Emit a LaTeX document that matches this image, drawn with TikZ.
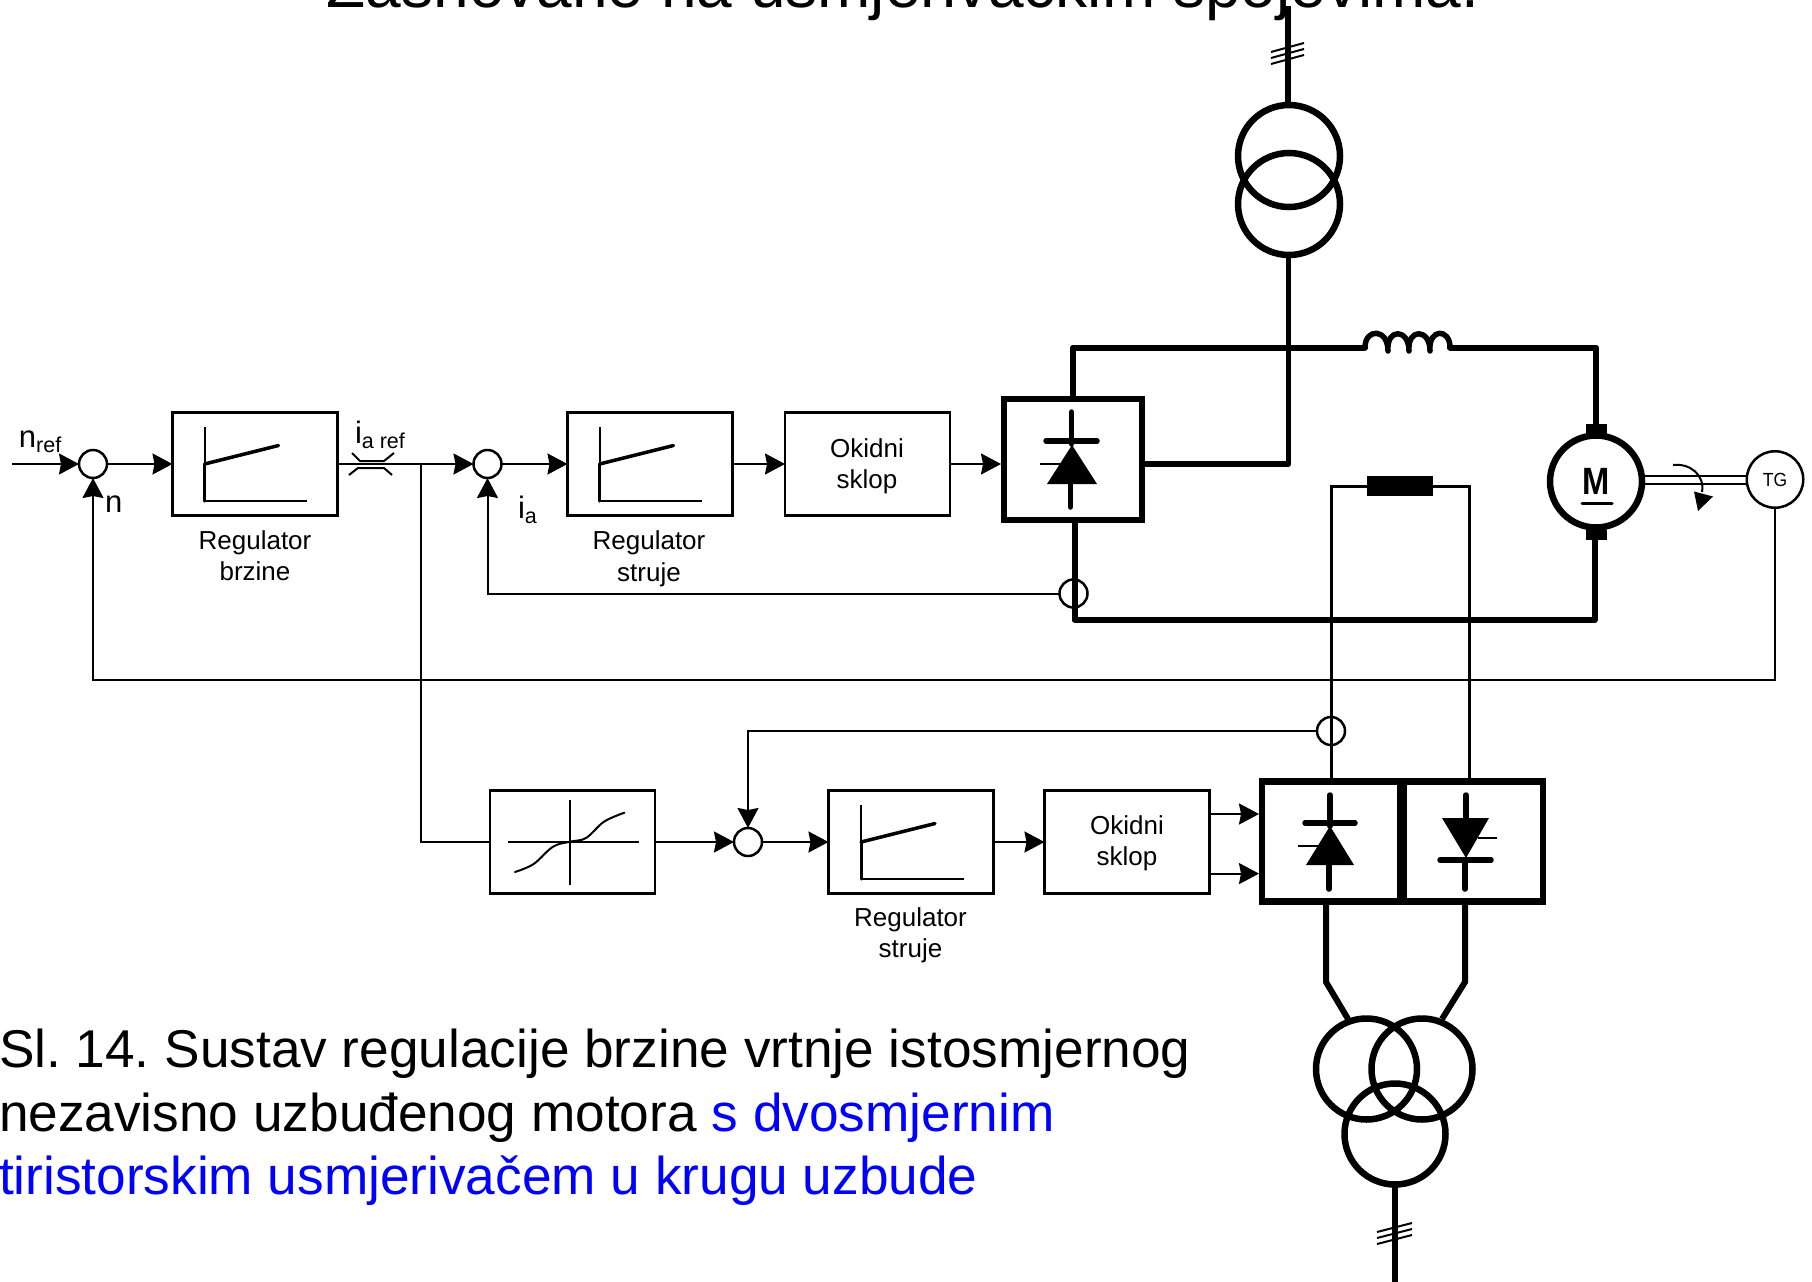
\documentclass[tikz,border=0pt]{standalone}
\usepackage{fontspec}
\usepackage{graphicx}
\setmainfont{Liberation Sans}
\usetikzlibrary{arrows.meta,calc}
\frenchspacing
\newcommand{\lbl}{\fontsize{26}{31}\selectfont}
\newcommand{\lblbig}{\fontsize{31}{31}\selectfont}
\newcommand{\sbs}[1]{\raisebox{-5pt}{\fontsize{21.5}{21.5}\selectfont #1}}
\newcommand{\cpt}{\fontsize{53.2}{63}\selectfont}
\tikzset{
  wire/.style={line width=2pt},
  arr/.style={line width=2pt,-{Stealth[length=20pt,width=21pt,inset=2pt]}},
  pwire/.style={line width=6pt,line cap=round,line join=round},
  fwire/.style={line width=3pt},
  sumn/.style={circle,draw,line width=2.5pt,minimum size=28pt,inner sep=0pt,outer sep=0pt},
  blockbox/.style={rectangle,draw,line width=2.2pt,minimum width=165pt,minimum height=103pt,inner sep=0pt,outer sep=0pt,align=center},
  convbox/.style={rectangle,draw,line width=6.5pt,inner sep=0pt,outer sep=0pt},
  trafo/.style={circle,draw,line width=6.5pt,minimum size=102pt,inner sep=0pt,outer sep=0pt},
  txt/.style={anchor=base,inner sep=0pt,outer sep=0pt,font=\lbl},
  capt/.style={anchor=base west,inner sep=0pt,outer sep=0pt,font=\cpt},
  hash/.style={line width=2pt},
  axthin/.style={line width=2pt},
  axthick/.style={line width=3.5pt,line cap=round},
  thy/.style={line width=5.5pt,line cap=round},
}
\begin{document}
\begin{tikzpicture}[x=1pt,y=-1pt]
\useasboundingbox (0,0) rectangle (1812,1282);
% title, cut by the page edge as in the reference
\node[capt,anchor=base,font=\fontsize{64}{64}\selectfont] (title) at (903,7) {Zasnovane na usmjerivačkim spojevima.};
% caption
\node[capt] (c1) at (-1,1067) {Sl. 14. Sustav regulacije brzine vrtnje istosmjernog};
\node[capt] (c2) at (-1,1131) {nezavisno uzbuđenog motora \textcolor{blue}{s dvosmjernim}};
\node[capt] (c3) at (-1,1194) {\textcolor{blue}{tiristorskim usmjerivačem u krugu uzbude}};
% upper row
\coordinate (inp) at (12,464);
\node[sumn] (sum1) at (93,464) {};
\node[blockbox] (reg1) at (255,464) {};
\node[sumn] (sum2) at (487.5,464) {};
\node[blockbox] (reg2) at (650,464) {};
\node[blockbox] (ok1) at (867.5,464) {};
\node[convbox,minimum width=138pt,minimum height=121pt] (thy1) at (1073,459.5) {};
\coordinate (ok1in) at (thy1.west |- reg1.center);
\draw[arr] (inp) -- (sum1.west);
\draw[arr] (sum1.east) -- (reg1.west);
\draw[arr] (reg1.east) -- (sum2.west);
\draw[arr] (sum2.east) -- (reg2.west);
\draw[arr] (reg2.east) -- (ok1.west);
\draw[arr] (ok1.east) -- ($(ok1in)+(-3,0)$);
% texts upper
\node[txt,font=\lblbig,anchor=base west] (lnref) at (19,447) {n\sbs{ref}};
\node[txt,font=\lblbig,anchor=base west] (ln) at (105,512) {n};
\node[txt,font=\lblbig,anchor=base west] (liaref) at (355,443) {i\sbs{a ref}};
\node[txt,font=\lblbig,anchor=base west] (lia) at (518,518) {i\sbs{a}};
\node[txt] (r1a) at (255,549) {Regulator};
\node[txt] (r1b) at (255,580) {brzine};
\node[txt] (r2a) at (649,549) {Regulator};
\node[txt] (r2b) at (649,581) {struje};
\node[txt] (o1a) at (867,457) {Okidni};
\node[txt] (o1b) at (867,488) {sklop};
% characteristic graphs
\foreach \dx/\dy in {0/0,395/0,656.5/378}{
  \begin{scope}[shift={(\dx,\dy)}]
    \draw[axthin] (204.6,427) -- (204.6,465);
    \draw[axthick,line width=3pt] (204.6,464) -- (204.6,501);
    \draw[axthin,line width=2.5pt] (204.6,501) -- (307,501);
    \draw[axthick] (204.6,464) -- (278.5,445.5);
  \end{scope}
}
% decoupling symbol
\draw[wire] (352,453) -- (360,461) -- (384,461) -- (394,453);
\draw[wire] (349,475) -- (358,468) -- (384,468) -- (392,475);
% lower row
\coordinate (jn) at (421,464);
\node[blockbox] (nl) at (572.5,842) {};
\node[sumn] (sum3) at (748,842) {};
\node[blockbox] (reg3) at (911,842) {};
\node[blockbox] (ok2) at (1127,842) {};
\draw[wire] (jn) |- (nl.west);
\draw[arr] (nl.east) -- (sum3.west);
\draw[arr] (sum3.east) -- (reg3.west);
\draw[arr] (reg3.east) -- (ok2.west);
\draw[axthin] (508,842) -- (639,842);
\draw[axthin] (570,800) -- (570,885);
\draw[line width=2pt,line cap=round] plot[smooth,tension=.6] coordinates {(515,872) (533.6,864) (553,846.7) (570,841.7) (586,838) (604,821.7) (624.4,812.7)};
\node[txt] (r3a) at (910.5,926) {Regulator};
\node[txt] (r3b) at (910.5,957) {struje};
\node[txt] (o2a) at (1127,834) {Okidni};
\node[txt] (o2b) at (1127,865) {sklop};
% converters
\node[convbox,minimum width=138pt,minimum height=120pt] (thy2) at (1331,841.5) {};
\node[convbox,minimum width=139pt,minimum height=120pt] (thy3) at (1473.5,841.5) {};
\coordinate (a1) at (thy2.west |- 0,814);
\coordinate (a2) at (thy2.west |- 0,873.6);
\coordinate (o1) at (ok2.east |- a1);
\coordinate (o2) at (ok2.east |- a2);
\draw[arr] (o1) -- ($(a1)+(-3,0)$);
\draw[arr] (o2) -- ($(a2)+(-3,0)$);
% thyristor in armature bridge
\draw[thy] (1071.5,412) -- (1071.5,444);
\draw[thy] (1046,441) -- (1097,441);
\fill (1072,445) -- (1097,484) -- (1047,484) -- cycle;
\draw[thy] (1070.5,484) -- (1070.5,507);
\draw[axthin] (1040,463.5) -- (1060,463.5);
% thyristor left
\draw[thy] (1330,795) -- (1330,826);
\draw[thy] (1305,823) -- (1355,823);
\fill (1330,826) -- (1354,865) -- (1306,865) -- cycle;
\draw[thy] (1329,865) -- (1329,889);
\draw[axthin] (1298,845.5) -- (1318,845.5);
% thyristor right
\draw[thy] (1466,795) -- (1466,820);
\fill (1442,818) -- (1489,818) -- (1466,858) -- cycle;
\draw[thy] (1440,860) -- (1491,860);
\draw[thy] (1465,860) -- (1465,889);
\draw[axthin] (1478,838) -- (1497,838);
% top transformer
\node[trafo] (tr1) at (1289,156) {};
\node[trafo] (tr2) at (1289,204) {};
\coordinate (gtop) at (1288,6);
\draw[line width=5.5pt] (gtop) -- (gtop |- tr1.north);
\foreach \y in {0,6,12}{\draw[hash] (1271,52+\y) -- (1304,43+\y);}
\coordinate (j1) at (1288.5,464);
\draw[line width=5.5pt,line join=round] (j1 |- tr2.south) -- (j1) -- (thy1.east |- j1);
% inductor
\coordinate (lin) at (1365,347.5);
\coordinate (lout) at (1450,347.5);
\draw[line width=5.5pt,line cap=round,line join=round]
  (lin) .. controls (1365,328) and (1388,328) .. (1388,351)
  .. controls (1386,328) and (1409,328) .. (1409,351)
  .. controls (1407,328) and (1430,328) .. (1430,351)
  .. controls (1428,328) and (1450,328) .. (lout);
% motor
\node[circle,draw,line width=6.5pt,minimum size=92pt,inner sep=0pt,outer sep=0pt] (mot) at (1596,481.5) {};
\node[fill,rectangle,minimum width=21pt,minimum height=11pt,inner sep=0pt,outer sep=0pt] (motT) at (1596,429.5) {};
\node[fill,rectangle,minimum width=21pt,minimum height=10pt,inner sep=0pt,outer sep=0pt] (motB) at (1596,534.5) {};
\node[txt,font=\fontsize{38}{38}\selectfont\bfseries] (mm) at (1596,494) {\scalebox{0.86}[1]{M}};
\draw[line width=3pt,line cap=round] (1582,503) -- (1612,503);
\draw[pwire] (thy1.north) |- (lin);
\draw[pwire] (lout) -| (motT.north);
\coordinate (cb) at (1074.5,620);
\draw[pwire] (motB.south -| 1594.5,0) |- (cb) -- (cb |- thy1.south);
% tacho
\node[circle,draw,line width=2.5pt,minimum size=56.5pt,inner sep=0pt,outer sep=0pt] (tg) at (1775,479.5) {};
\node[txt,font=\fontsize{19}{19}\selectfont] (tgt) at (1775,486) {\scalebox{0.92}[1]{TG}};
\draw[wire] (mot.east |- 0,476) -- (tg.west |- 0,476);
\draw[wire] (mot.east |- 0,483.5) -- (tg.west |- 0,483.5);
\draw[wire] (1673,465) .. controls (1690,463) and (1705,475) .. (1702,492);
\fill (1694,491.5) -- (1713,496.5) -- (1698,511) -- cycle;
% sensors and feedback
\node[sumn] (s1) at (1073.5,593.5) {};
\node[sumn] (s2) at (1331,731) {};
\draw[arr] (s1.west) -| (sum2.south);
\draw[arr] (s2.west) -| (sum3.north);
\coordinate (fb) at (93,679.5);
\draw[arr] (tg.south) |- (fb) -- (sum1.south);
% field winding
\node[fill,rectangle,minimum width=66pt,minimum height=20pt,inner sep=0pt,outer sep=0pt] (fw) at (1400,486) {};
\draw[fwire] (thy2.north -| s2) |- (fw.west);
\draw[fwire] (fw.east) -| (1469,781);
% lower transformer
\node[trafo,minimum size=101pt] (t3a) at (1366.5,1069) {};
\node[trafo,minimum size=101pt] (t3b) at (1422,1069) {};
\node[trafo,minimum size=101pt] (t3c) at (1395,1134) {};
\coordinate (gbot) at (1395,1282);
\draw[line width=5.5pt] (t3c.south) -- (gbot);
\foreach \y in {0,6,12}{\draw[hash] (1377,1232+\y) -- (1412,1223+\y);}
\draw[pwire,line cap=butt,line join=miter] (1326,904) -- (1326,982) -- (1348,1019);
\draw[pwire,line cap=butt,line join=miter] (1465,904) -- (1465,982) -- (1442,1019);
\end{tikzpicture}
\end{document}
